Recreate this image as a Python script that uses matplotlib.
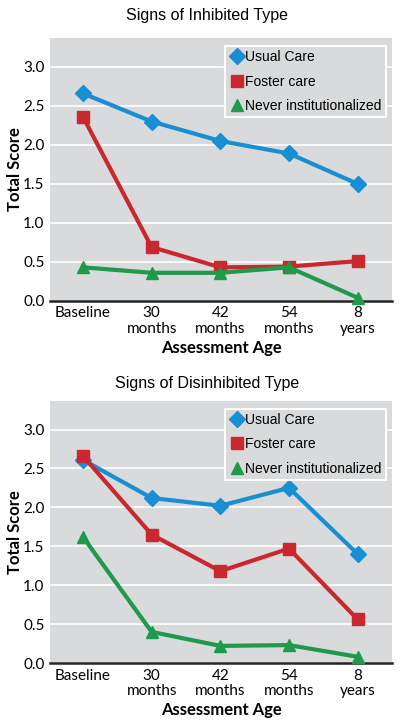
import matplotlib
matplotlib.use("Agg")
import matplotlib.pyplot as plt
from matplotlib.lines import Line2D

# ── data ──────────────────────────────────────────────────────────────
ages = ["Baseline", "30\nmonths", "42\nmonths", "54\nmonths", "8\nyears"]
groups = ["Usual Care", "Foster care", "Never institutionalized"]

inhib_usual  = [2.66, 2.30, 2.05, 1.89, 1.50]
inhib_foster = [2.36, 0.69, 0.43, 0.44, 0.51]
inhib_never  = [0.43, 0.36, 0.36, 0.43, 0.04]

disinh_usual  = [2.61, 2.12, 2.02, 2.25, 1.40]
disinh_foster = [2.66, 1.65, 1.18, 1.47, 0.56]
disinh_never  = [1.62, 0.40, 0.22, 0.23, 0.08]

yticks = [0.0, 0.5, 1.0, 1.5, 2.0, 2.5, 3.0]

# ── style ─────────────────────────────────────────────────────────────
COLORS  = ["#1a8ed2", "#c8282e", "#1e9a4a"]
MARKERS = ["D", "s", "^"]
MSIZES  = [8, 8, 9]
BG      = "#d9dadb"
TICK_FONT  = "Lato"
TITLE_FONT = "Liberation Sans"


def draw_panel(ax, title, series, title_pad):
    ax.set_facecolor(BG)
    x = range(len(ages))
    for vals, c, m, ms in zip(series, COLORS, MARKERS, MSIZES):
        ax.plot(x, vals, color=c, marker=m, markersize=ms, linewidth=3,
                zorder=3, clip_on=False)

    ax.set_xlim(-0.48, 4.5)
    ax.set_ylim(0, 3.37)
    ax.set_yticks(yticks)
    ax.set_yticklabels([f"{v:.1f}" for v in yticks], fontsize=11,
                       family=TICK_FONT)
    ax.set_xticks(list(x))
    ax.set_xticklabels(ages, fontsize=11, family=TICK_FONT, linespacing=1.15)
    ax.tick_params(length=0, pad=4)
    ax.grid(axis="y", color="white", linewidth=1.2)
    ax.set_axisbelow(True)
    for s in ["top", "right", "left"]:
        ax.spines[s].set_visible(False)
    ax.spines["bottom"].set_color("#222222")
    ax.spines["bottom"].set_linewidth(1.8)

    ax.set_ylabel("Total Score", fontsize=12, fontweight="bold",
                  family=TICK_FONT, labelpad=0)
    ax.set_xlabel("Assessment Age", fontsize=12, fontweight="bold",
                  family=TICK_FONT, labelpad=3)
    ax.set_title(title, fontsize=11.5, family=TITLE_FONT, pad=title_pad,
                 x=0.46)

    handles = [Line2D([], [], color=c, marker=m, linestyle="none",
                      markersize=ms)
               for c, m, ms in zip(COLORS, MARKERS, MSIZES)]
    leg = ax.legend(handles, groups, loc="upper right",
                    bbox_to_anchor=(0.99, 0.98), frameon=True, fancybox=False,
                    handletextpad=0.05, handlelength=1.1, borderpad=0.3,
                    labelspacing=0.75, prop={"family": TITLE_FONT, "size": 10},
                    borderaxespad=0.2)
    frame = leg.get_frame()
    frame.set_facecolor(BG)
    frame.set_edgecolor("white")
    frame.set_linewidth(1.5)
    frame.set_alpha(1)


fig = plt.figure(figsize=(4, 7.25), dpi=100)
ax1 = fig.add_axes([0.125, 0.585, 0.855, 0.3625])
ax2 = fig.add_axes([0.125, 0.0855, 0.855, 0.3618])

draw_panel(ax1, "Signs of Inhibited Type",
           [inhib_usual, inhib_foster, inhib_never], title_pad=13)
draw_panel(ax2, "Signs of Disinhibited Type",
           [disinh_usual, disinh_foster, disinh_never], title_pad=9)

fig.savefig("out.png", dpi=100)
